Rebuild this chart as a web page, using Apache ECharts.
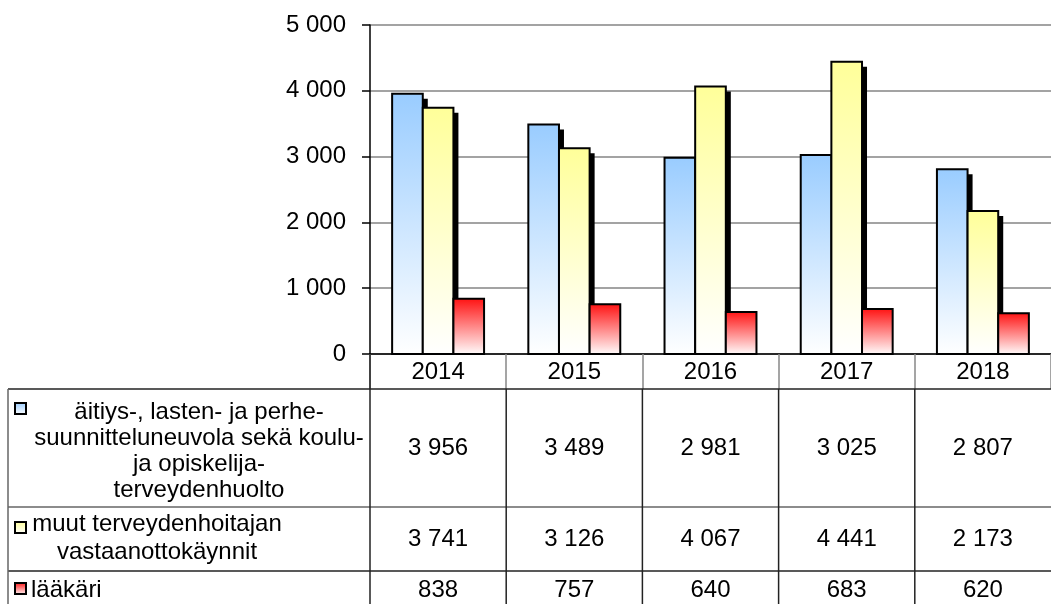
<!DOCTYPE html>
<html><head><meta charset="utf-8">
<script src="https://cdn.jsdelivr.net/npm/echarts@6/dist/echarts.min.js"></script>
<style>html,body{margin:0;padding:0;background:#fff;overflow:hidden}#c{width:1051px;height:604px}</style>
</head><body><div id="c"></div>
<script>
// ---- data ----
const years = ['2014', '2015', '2016', '2017', '2018'];
const neuvola = [3956, 3489, 2981, 3025, 2807];
const muut = [3741, 3126, 4067, 4441, 2173];
const laakari = [838, 757, 640, 683, 620];
const seriesLabels = [
  'äitiys-, lasten- ja perhe-\nsuunnitteluneuvola sekä koulu-\nja opiskelija-\nterveydenhuolto',
  'muut terveydenhoitajan\nvastaanottokäynnit',
  'lääkäri'
];
const yMin = 0, yMax = 5000, yStep = 1000;

// ---- helpers ----
const FONT = "'Liberation Sans', Arial, sans-serif";
const FS = 24;
const fmt = v => String(v).replace(/\B(?=(\d{3})+(?!\d))/g, ' ');
const grad = c => new echarts.graphic.LinearGradient(0, 0, 0, 1, [
  {offset: 0, color: c}, {offset: 1, color: '#ffffff'}]);
const colors = ['#99CCFF', '#FFFF99', '#FF1010'];
const seriesData = [neuvola, muut, laakari];
const hasShadow = [true, true, false];

const chart = echarts.init(document.getElementById('c'));

function makeRender(sIdx) {
  return function (params, api) {
    const xi = api.value(0), v = api.value(1);
    const base = api.coord([xi, 0]);
    const top = api.coord([xi, v]);
    const bw = api.size([1, 0])[0] * 0.225;
    const x = base[0] + (sIdx - 1) * bw - bw / 2;
    const y = top[1], h = base[1] - top[1];
    const children = [];
    if (hasShadow[sIdx]) {
      children.push({type: 'rect', shape: {x: x + 5, y: y + 5, width: bw, height: h}, style: {fill: '#000'}});
    }
    children.push({type: 'rect', shape: {x: x, y: y, width: bw, height: h},
      style: {fill: grad(colors[sIdx]), stroke: '#000', lineWidth: 2}});
    return {type: 'group', children: children};
  };
}

const option = {
  animation: false,
  backgroundColor: '#ffffff',
  grid: {left: 370, top: 25, width: 691, height: 329, containLabel: false},
  xAxis: {
    type: 'category', data: years, z: 20,
    axisLine: {lineStyle: {color: '#000', width: 1.5}},
    axisTick: {show: true, length: 35, lineStyle: {color: '#888', width: 1.5}},
    axisLabel: {margin: 6, color: '#000', fontSize: FS, fontFamily: FONT}
  },
  yAxis: {
    type: 'value', min: yMin, max: yMax, interval: yStep,
    axisLine: {show: true, lineStyle: {color: '#000', width: 1.5}},
    axisTick: {show: true, length: 8, lineStyle: {color: '#000', width: 1.5}},
    axisLabel: {margin: 24, color: '#000', fontSize: FS, fontFamily: FONT, formatter: v => fmt(v)},
    splitLine: {show: true, lineStyle: {color: '#858585', width: 1.5}}
  },
  series: seriesData.map((d, i) => ({
    type: 'custom', name: seriesLabels[i],
    data: d.map((v, k) => [k, v]),
    encode: {x: 0, y: 1},
    renderItem: makeRender(i)
  }))
};
chart.setOption(option);

// ---- data table built from the arrays ----
const centers = years.map((y, i) => chart.convertToPixel({xAxisIndex: 0}, i));
const band = centers[1] - centers[0];
const x0 = centers[0] - band / 2;
const xEnd = centers[centers.length - 1] + band / 2;
const axisY = chart.convertToPixel({yAxisIndex: 0}, yMin);
const rowTop = [389, 507, 571];
const rowTextY = [448, 539, 590];
const leftX = 8;
const g = [];
const LC = '#222';
// cover shadows below axis
g.push({type: 'rect', z: 5, shape: {x: x0 + 1, y: axisY + 1, width: xEnd - x0, height: rowTop[0] - axisY - 1}, style: {fill: '#fff'}});
// horizontal lines
rowTop.forEach((y, i) => g.push({type: 'line', z: 25, shape: {x1: leftX, y1: y, x2: xEnd + 20, y2: y}, style: {stroke: i === 1 ? '#666' : LC, lineWidth: 1.5}}));
// vertical lines
g.push({type: 'line', z: 25, shape: {x1: leftX, y1: rowTop[0], x2: leftX, y2: 610}, style: {stroke: '#666', lineWidth: 1.5}});
g.push({type: 'line', z: 25, shape: {x1: x0, y1: axisY, x2: x0, y2: 610}, style: {stroke: LC, lineWidth: 1.5}});
centers.forEach((c, i) => {
  if (i > 0) g.push({type: 'line', z: 25, shape: {x1: c - band / 2, y1: rowTop[0], x2: c - band / 2, y2: 610}, style: {stroke: LC, lineWidth: 1.5}});
});
// values
seriesData.forEach((d, r) => {
  d.forEach((v, i) => g.push({type: 'text', z: 25, style: {
    text: fmt(v), x: centers[i], y: rowTextY[r], align: 'center', verticalAlign: 'middle',
    fill: '#000', fontSize: FS, fontFamily: FONT}}));
});
// legend keys + labels
const keyY = [403, 522, 583];
colors.forEach((c, r) => g.push({type: 'rect', z: 25, shape: {x: 15, y: keyY[r], width: 11, height: 11},
  style: {fill: grad(c), stroke: '#000', lineWidth: 2}}));
const labelPos = [
  {x: 199, y: 451, align: 'center', lh: 26},
  {x: 157, y: 538, align: 'center', lh: 28},
  {x: 31, y: 590, align: 'left', lh: 26}
];
seriesLabels.forEach((t, r) => g.push({type: 'text', z: 25, style: {
  text: t, x: labelPos[r].x, y: labelPos[r].y, align: labelPos[r].align, verticalAlign: 'middle',
  lineHeight: labelPos[r].lh, fill: '#000', fontSize: FS, fontFamily: FONT}}));
chart.setOption({graphic: {elements: g}});
</script></body></html>
